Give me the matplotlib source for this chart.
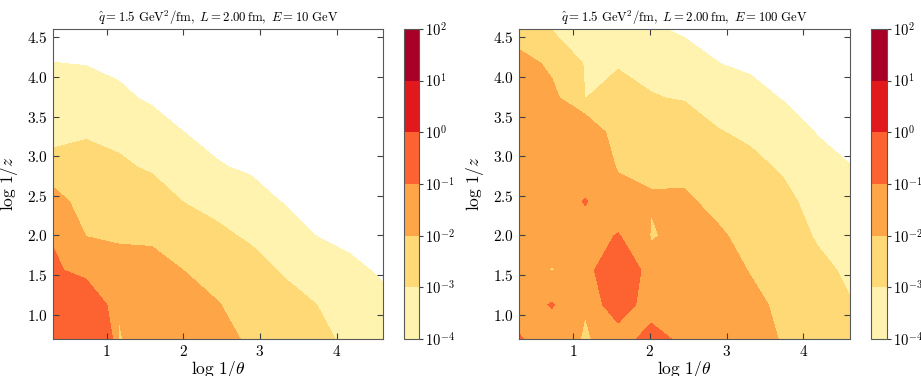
import numpy as np
import matplotlib
matplotlib.use("Agg")
import matplotlib.pyplot as plt
from matplotlib.colors import LogNorm

plt.rcParams["mathtext.fontset"] = "cm"
plt.rcParams["font.family"] = "serif"
plt.rcParams["font.serif"] = ["cmr10", "DejaVu Serif"]
plt.rcParams["axes.formatter.use_mathtext"] = True
plt.rcParams["axes.unicode_minus"] = False

# grid nodes
log_theta = [0.30, 0.73, 1.16, 1.59, 2.02, 2.45, 2.88, 3.31, 3.74, 4.17, 4.60]
log_z = [0.69, 1.125, 1.56, 1.995, 2.43, 2.865, 3.30, 3.735, 4.17, 4.605]

# log10 of the density, one list per log 1/theta column (bottom -> top in log 1/z)
dens_10gev = [
    [-0.40, -0.65, -0.90, -1.06, -1.80, -2.80, -3.30, -3.63, -3.98, -6.0],
    [-0.30, -0.60, -1.32, -2.04, -2.39, -2.73, -3.11, -3.58, -4.05, -6.0],
    [-2.20, -1.90, -1.80, -2.09, -2.48, -2.87, -3.33, -3.83, -4.30, -6.0],
    [-1.40, -1.55, -1.75, -2.19, -2.66, -3.15, -3.65, -4.20, -5.00, -6.0],
    [-1.50, -1.70, -2.02, -2.54, -3.05, -3.53, -4.01, -4.50, -5.50, -6.0],
    [-1.75, -1.97, -2.42, -2.86, -3.37, -3.93, -4.50, -5.00, -5.50, -6.0],
    [-2.20, -2.50, -2.75, -3.14, -3.67, -4.20, -4.70, -5.20, -5.60, -6.0],
    [-2.50, -2.75, -3.10, -3.58, -4.07, -4.60, -5.00, -5.40, -5.70, -6.0],
    [-2.75, -3.00, -3.50, -4.02, -4.50, -5.00, -5.30, -5.60, -5.80, -6.0],
    [-3.43, -3.65, -3.87, -4.20, -4.60, -5.00, -5.30, -5.60, -5.80, -6.0],
    [-3.60, -3.85, -4.10, -4.50, -4.80, -5.10, -5.40, -5.60, -5.80, -6.0],
]
dens_100gev = [
    [-0.96, -1.30, -1.40, -1.50, -1.50, -1.60, -1.65, -1.75, -1.85, -2.40],
    [-1.40, -0.97, -2.15, -1.50, -1.55, -1.65, -1.80, -1.90, -2.10, -3.20],
    [-2.30, -1.90, -1.40, -1.30, -0.97, -1.50, -1.70, -3.02, -3.30, -3.50],
    [-1.50, -0.75, -0.60, -0.97, -1.70, -2.10, -2.40, -2.70, -3.10, -3.40],
    [-0.80, -1.50, -1.50, -2.25, -1.90, -2.30, -2.60, -2.95, -3.40, -3.85],
    [-1.20, -1.30, -1.45, -1.60, -1.90, -2.25, -2.60, -3.08, -3.60, -4.30],
    [-1.35, -1.50, -1.70, -1.90, -2.25, -2.65, -2.96, -3.40, -3.98, -4.60],
    [-1.60, -1.80, -2.05, -2.35, -2.60, -2.85, -3.15, -3.65, -4.40, -4.80],
    [-2.15, -2.30, -2.45, -2.65, -2.85, -3.10, -3.50, -4.10, -4.60, -5.00],
    [-2.30, -2.50, -2.80, -3.10, -3.35, -3.65, -4.05, -4.60, -5.00, -5.50],
    [-2.70, -2.95, -3.20, -3.45, -3.70, -3.98, -4.30, -4.80, -5.20, -5.60],
]
energies = ["10", "100"]
levels = [1e-4, 1e-3, 1e-2, 1e-1, 1e0, 1e1, 1e2]

fig = plt.figure(figsize=(9.21, 3.76), dpi=100)
ax_pos = [[0.0575, 0.098, 0.358, 0.825], [0.5635, 0.098, 0.359, 0.825]]
cb_pos = [[0.4387, 0.098, 0.0163, 0.825], [0.9457, 0.098, 0.0174, 0.825]]

for i, dens in enumerate([dens_10gev, dens_100gev]):
    ax = fig.add_axes(ax_pos[i])
    cax = fig.add_axes(cb_pos[i])
    Z = 10.0 ** np.array(dens).T
    cs = ax.contourf(log_theta, log_z, Z, levels=levels,
                     norm=LogNorm(vmin=1e-4, vmax=1e2), cmap="YlOrRd")
    ax.set_xlim(0.3, 4.6)
    ax.set_ylim(0.69, 4.605)
    ax.set_xticks([1, 2, 3, 4])
    ax.set_yticks([1.0, 1.5, 2.0, 2.5, 3.0, 3.5, 4.0, 4.5])
    ax.tick_params(direction="in", top=True, right=True, labelsize=11,
                   length=4, color="0.25")
    for sp in ax.spines.values():
        sp.set_color("0.35")
    ax.set_xlabel(r"$\log\,1/\theta$", fontsize=12.5)
    ax.xaxis.set_label_coords(0.5, -0.063)
    ax.set_ylabel(r"$\log\,1/z$", fontsize=12.5)
    ax.yaxis.set_label_coords(-0.10, 0.5)
    ax.set_title(r"$\hat{q}=1.5\ \mathrm{GeV}^2/\mathrm{fm},\ L=2.00\,\mathrm{fm},\ E="
                 + energies[i] + r"\ \mathrm{GeV}$", fontsize=9.2, pad=5)
    cb = fig.colorbar(cs, cax=cax)
    cb.set_ticks(levels)
    cb.ax.tick_params(labelsize=10.5, length=3, pad=1.5, color="0.25")
    cb.outline.set_edgecolor("0.35")

fig.savefig("out.png", dpi=100)
